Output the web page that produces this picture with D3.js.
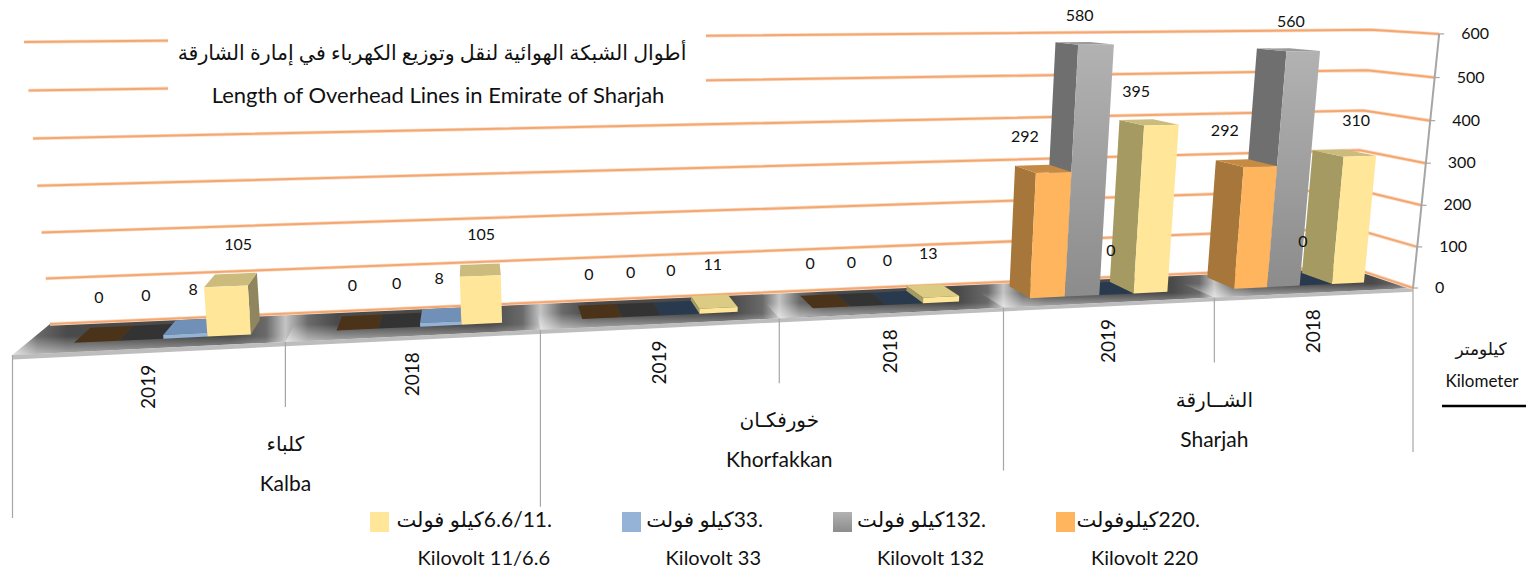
<!DOCTYPE html>
<html><head><meta charset="utf-8">
<script src="https://cdn.jsdelivr.net/npm/d3@7"></script>
<style>
html,body{margin:0;padding:0;background:#fff}
svg{display:block}
text{fill:#111;font-family:Lato,"DejaVu Sans",sans-serif}
.ar{font-family:Lato,"DejaVu Sans",sans-serif;direction:rtl}
</style></head><body>
<svg id="c" width="1526" height="573"></svg>
<script>
const titleAr = "أطوال الشبكة الهوائية لنقل وتوزيع الكهرباء في إمارة الشارقة";
const titleEn = "Length of Overhead Lines in Emirate of Sharjah";
const groupsAr = ["كلباء","خورفكـان","الشــارقة"];
const groupsEn = ["Kalba","Khorfakkan","Sharjah"];
const years = ["2019","2018","2019","2018","2019","2018"];
const seriesKeys = ["220","132","33","11"];
const legendAr = [".220كيلوفولت",".132كيلو فولت",".33كيلو فولت",".6.6/11كيلو فولت"];
const legendEn = ["Kilovolt 220","Kilovolt 132","Kilovolt 33","Kilovolt 11/6.6"];
const v220 = [0,0,0,0,292,292];
const v132 = [0,0,0,0,580,560];
const v33  = [8,8,0,0,0,0];
const v11  = [105,105,11,13,395,310];
const yTicks = [0,100,200,300,400,500,600];
const seriesValues = [v220,v132,v33,v11];
const front = ["#ffb55e","#a8a8a8","#95b3d7","#ffe699"];
const side  = ["#a6763a","#6f6f6f","#6e86a6","#a59a62"];
const topC  = ["#c58a44","#9a9a9a","#7090b8","#cbbb7c"];
const flat  = ["#4a3319","#333333","#2a3a4e","#d9c77d"];
// horizontal nudges of the hand-placed data labels, by series then category
const labelNudge = [[-4,-7,-11,-16,-20,-24],[-1,-4,-8,-11,-7,0],[3,-2,-6,-11,4,-1],[8,1,-2,-6,-15,9]];

const svg = d3.select("#c");
const defs = svg.append("defs");

// perspective: origin + u*Vu + v*Vv + w*Vw in homogeneous coordinates
const O=[12.5,355,1], Vu=[8082,-31,1], Vv=[473,-25,1], Vw=[691,7295,1];
const uK=0.21, vK=0.08865, wK=-0.04234;
const wScale = d3.scaleLinear().domain([0,600]).range([0,wK]);
function P(u,v,val){
  const a=u*uK,b=v*vK,c=wScale(val);
  const h=[0,1,2].map(i=>O[i]+a*Vu[i]+b*Vv[i]+c*Vw[i]);
  return [h[0]/h[2],h[1]/h[2]];
}
const line = d3.line();
const poly = pts => line(pts)+"Z";
const catScale = d3.scaleLinear().domain([0,years.length]).range([0,1]);
const band = i => d3.scaleBand().domain(seriesKeys)
  .range([catScale(i+0.015+1/6),catScale(i+0.015+5/6)]);
const V0=0.3,V1=0.8;

// floor
const tickX = d3.range(years.length+1).map(i=>P(catScale(i),0,0));
const g = defs.append("linearGradient").attr("id","floorG").attr("gradientUnits","userSpaceOnUse")
  .attr("x1",12).attr("x2",1413).attr("y1",0).attr("y2",0);
const toOff = d3.scaleLinear().domain([12,1413]).range([0,1]);
d3.range(years.length).forEach(i=>{
  const a=tickX[i][0],b=tickX[i+1][0],w=b-a;
  [[0,"#c4c4c4"],[.09,"#6a6a6a"],[.2,"#4a4a4a"],[.8,"#4a4a4a"],[.93,"#6a6a6a"],[1,"#c4c4c4"]]
   .forEach(([f,c])=>g.append("stop").attr("offset",toOff(a+f*w)).attr("stop-color",c));
});
const fade = defs.append("linearGradient").attr("id","floorFade").attr("x1",0).attr("x2",0).attr("y1",0).attr("y2",1);
fade.append("stop").attr("offset",0.55).attr("stop-color","#fff").attr("stop-opacity",0);
fade.append("stop").attr("offset",1).attr("stop-color","#fff").attr("stop-opacity",.55);
svg.append("path").attr("d",poly([P(0,0,0),P(1,0,0),P(1,1,0),P(0,1,0)])).attr("fill","url(#floorG)");
d3.range(0,1,1/6).forEach(i=>{
  svg.append("path").attr("d",poly([P(i,0,0),P(i+1/6,0,0),P(i+1/6,1,0),P(i,1,0)])).attr("fill","url(#floorFade)");
});
svg.append("path").attr("d",poly([P(0,0,0),P(1,0,0),P(1,0,-9),P(0,0,-9)])).attr("fill","#bdbdbd");

// gridlines
yTicks.forEach(t=>{
  const pts=[P(0,1,t),P(1,1,t),P(1,0,t)];
  svg.append("path").attr("d",line(pts)).attr("fill","none").attr("stroke","#f9dcc6").attr("stroke-width",3.6);
  svg.append("path").attr("d",line(pts)).attr("fill","none").attr("stroke","#f4a770").attr("stroke-width",2);
});
// title panel
svg.append("rect").attr("x",168).attr("y",18).attr("width",538).attr("height",92).attr("fill","#fff");

// vertical axis
const axTop=P(1,0,600),axBot=P(1,0,0);
svg.append("line").attr("x1",axTop[0]).attr("y1",axTop[1]).attr("x2",axBot[0]).attr("y2",axBot[1]).attr("stroke","#a6a6a6").attr("stroke-width",2);
yTicks.forEach(t=>{
  const p=P(1,0,t);
  svg.append("line").attr("x1",p[0]).attr("y1",p[1]).attr("x2",p[0]+5).attr("y2",p[1]).attr("stroke","#a6a6a6").attr("stroke-width",1.2);
  svg.append("text").attr("x",p[0]+22).attr("y",p[1]+5).attr("font-size",16).attr("text-anchor","start").text(t);
});

// bars
const bars=[];
seriesKeys.forEach((k,si)=>{
  seriesValues[si].forEach((val,ci)=>{
    const b=band(ci),u0=b(k),u1=u0+b.bandwidth();
    bars.push({si,ci,val,u0,u1,cx:P((u0+u1)/2,0,0)[0]});
  });
});
const vpX=Vv[0];
bars.sort((a,b)=>Math.abs(b.cx-vpX)-Math.abs(a.cx-vpX));
seriesKeys.forEach((k,si)=>{
  const gr=defs.append("linearGradient").attr("id","front"+si).attr("x1",0).attr("x2",0).attr("y1",0).attr("y2",1);
  const top=si===1?"#b2b2b2":front[si], bot=si===1?"#8c8c8c":front[si];
  gr.append("stop").attr("offset",0).attr("stop-color",top);
  gr.append("stop").attr("offset",1).attr("stop-color",bot);
});
bars.forEach(d=>{
  const {u0,u1,val,si}=d;
  if(val===0){
    svg.append("path").attr("d",poly([P(u0,V0,0),P(u1,V0,0),P(u1,V1,0),P(u0,V1,0)])).attr("fill",flat[si]);
    return;
  }
  const small=val<20;
  const fl=P(u0,V0,0),bl=P(u0,V1,0),fr=P(u1,V0,0),br=P(u1,V1,0);
  if(bl[0]<fl[0]) svg.append("path").attr("d",poly([P(u0,V0,0),P(u0,V1,0),P(u0,V1,val),P(u0,V0,val)])).attr("fill",side[si]);
  if(br[0]>fr[0]) svg.append("path").attr("d",poly([P(u1,V0,0),P(u1,V1,0),P(u1,V1,val),P(u1,V0,val)])).attr("fill",si===3?"#8f8660":side[si]);
  svg.append("path").attr("d",poly([P(u0,V0,val),P(u1,V0,val),P(u1,V1,val),P(u0,V1,val)])).attr("fill",small&&si===3?"#dccb82":topC[si]);
  svg.append("path").attr("d",poly([P(u0,V0,0),P(u1,V0,0),P(u1,V0,val),P(u0,V0,val)])).attr("fill","url(#front"+si+")");
});
// data labels sit a value-dependent distance above the bar's top
const labelLift = d3.scaleLinear().domain([0,580]).range([33,23]);
bars.forEach(d=>{
  const p=P((d.u0+d.u1)/2,0.5,d.val);
  svg.append("text").attr("x",p[0]+labelNudge[d.si][d.ci]).attr("y",p[1]-labelLift(d.val)).attr("font-size",16).attr("text-anchor","middle").text(d.val);
});

// category ticks and labels
const innerDrop=65, outerDrop=[163,177,163,164];
tickX.forEach((p,i)=>{
  const drop = i%2===1 ? innerDrop : outerDrop[i/2];
  svg.append("line").attr("x1",p[0]).attr("y1",p[1]).attr("x2",p[0]).attr("y2",p[1]+drop).attr("stroke","#a6a6a6").attr("stroke-width",1.2);
});
years.forEach((y,i)=>{
  const p=P(catScale(i+.5),0,0), x=(tickX[i][0]+tickX[i+1][0])/2;
  svg.append("text").attr("transform",`translate(${x+6},${p[1]+38.5}) rotate(-90)`).attr("font-size",19).attr("text-anchor","middle").text(y);
});
groupsEn.forEach((n,i)=>{
  const p=tickX[i*2+1];
  svg.append("text").attr("class","ar").attr("x",p[0]).attr("y",p[1]+109).attr("font-size",20).attr("text-anchor","middle").text(groupsAr[i]);
  svg.append("text").attr("x",p[0]).attr("y",p[1]+149).attr("font-size",21).attr("text-anchor","middle").text(n);
});

// title
svg.append("text").attr("class","ar").attr("x",432).attr("y",60).attr("font-size",20.5).attr("text-anchor","middle").text(titleAr);
svg.append("text").attr("x",438).attr("y",103).attr("font-size",22).attr("text-anchor","middle").text(titleEn);

// unit
svg.append("text").attr("class","ar").attr("x",1481).attr("y",355).attr("font-size",17).attr("text-anchor","middle").text("كيلومتر");
svg.append("text").attr("x",1482).attr("y",387).attr("font-size",17).attr("text-anchor","middle").text("Kilometer");
svg.append("line").attr("x1",1442).attr("x2",1526).attr("y1",406).attr("y2",406).attr("stroke","#000").attr("stroke-width",2.6);

// legend
const legSw=[1056,833,622,370], legR=[1200,986,763,552];
seriesKeys.forEach((k,i)=>{
  svg.append("rect").attr("x",legSw[i]).attr("y",512).attr("width",19).attr("height",20).attr("fill","url(#front"+i+")");
  svg.append("text").attr("class","ar").attr("x",legR[i]).attr("y",527).attr("font-size",21).attr("text-anchor","start").text(legendAr[i]);
  svg.append("text").attr("x",legR[i]-2).attr("y",565).attr("font-size",20).attr("text-anchor","end").text(legendEn[i]);
});
</script></body></html>
